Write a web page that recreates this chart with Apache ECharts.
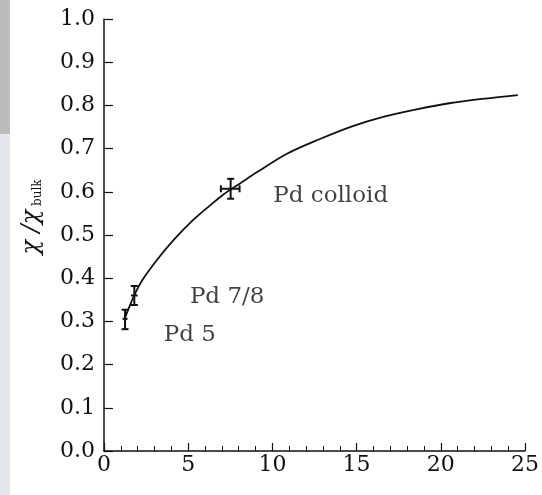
<!DOCTYPE html>
<html>
<head>
<meta charset="utf-8">
<script src="https://cdn.jsdelivr.net/npm/echarts@6/dist/echarts.min.js"></script>
<style>
  html, body { margin: 0; padding: 0; background: #fff; }
  #main { width: 542px; height: 495px; }
</style>
</head>
<body>
<div id="main"></div>
<script>
// fitted curve
var curveX = [1.22, 1.8, 2.28, 3.26, 4.22, 5.19, 6.16, 7.13, 8.1, 9.07, 10.81, 12.75, 14.69, 16.63, 18.56, 20.5, 22.44, 24.57];
var curveY = [0.306, 0.361, 0.396, 0.448, 0.492, 0.531, 0.564, 0.595, 0.620, 0.645, 0.687, 0.721, 0.751, 0.774, 0.791, 0.805, 0.815, 0.824];

// measured points: x, y, xlow, xhigh, ylow, yhigh
var sampleNames = ['Pd 5', 'Pd 7/8', 'Pd colloid'];
var sampleX = [1.25, 1.8, 7.52];
var sampleY = [0.306, 0.36, 0.607];
var sampleXErr = [[1.1, 1.4], [1.6, 2.0], [6.94, 8.05]];
var sampleYErr = [[0.282, 0.327], [0.338, 0.382], [0.584, 0.630]];

// where the sample names sit (left edge, middle)
var labelX = [3.55, 5.1, 10.05];
var labelY = [0.268, 0.357, 0.59];

var xTicks = [0, 5, 10, 15, 20, 25];
var yTicks = [0.0, 0.1, 0.2, 0.3, 0.4, 0.5, 0.6, 0.7, 0.8, 0.9, 1.0];

var ink = '#111';
var serif = 'DejaVu Serif';

var chart = echarts.init(document.getElementById('main'));

var curveData = curveX.map(function (x, i) { return [x, curveY[i]]; });
var errData = sampleX.map(function (x, i) {
    return [x, sampleY[i], sampleXErr[i][0], sampleXErr[i][1], sampleYErr[i][0], sampleYErr[i][1]];
});
var labelData = labelX.map(function (x, i) { return [x, labelY[i], sampleNames[i]]; });

function renderErr(params, api) {
    var c = api.coord([api.value(0), api.value(1)]);
    var xl = api.coord([api.value(2), api.value(1)]);
    var xh = api.coord([api.value(3), api.value(1)]);
    var yl = api.coord([api.value(0), api.value(4)]);
    var yh = api.coord([api.value(0), api.value(5)]);
    var cap = 3.5;
    var style = { stroke: ink, lineWidth: 2 };
    var segs = [
        [xl[0], c[1], xh[0], c[1]],
        [c[0], yl[1], c[0], yh[1]],
        [c[0] - cap, yl[1], c[0] + cap, yl[1]],
        [c[0] - cap, yh[1], c[0] + cap, yh[1]]
    ];
    if (api.value(3) - api.value(2) > 0.5) {
        segs.push([xl[0], c[1] - cap, xl[0], c[1] + cap]);
        segs.push([xh[0], c[1] - cap, xh[0], c[1] + cap]);
    }
    return {
        type: 'group',
        children: segs.map(function (s) {
            return { type: 'line', shape: { x1: s[0], y1: s[1], x2: s[2], y2: s[3] }, style: style };
        })
    };
}

var option = {
    backgroundColor: '#fff',
    animation: false,
    graphic: [
        { type: 'rect', shape: { x: 0, y: 0, width: 10, height: 134 }, style: { fill: '#bcbcbc' }, z: -1 },
        { type: 'rect', shape: { x: 0, y: 134, width: 10, height: 361 }, style: { fill: '#e3e8ea' }, z: -1 }
    ],
    grid: { left: 104, right: 8, top: 19, bottom: 44 },
    xAxis: {
        type: 'value',
        min: 0,
        max: 25,
        interval: 5,
        axisLine: { lineStyle: { color: ink, width: 1.5 } },
        axisTick: { inside: true, length: 8, lineStyle: { color: ink, width: 1.2 } },
        minorTick: { show: true, splitNumber: 5, length: 5, lineStyle: { color: ink, width: 1 } },
        splitLine: { show: false },
        axisLabel: {
            color: ink, fontFamily: serif, fontSize: 22, margin: 3,
            formatter: function (v) { return xTicks.indexOf(v) >= 0 ? String(v) : ''; }
        }
    },
    yAxis: {
        type: 'value',
        min: 0,
        max: 1,
        interval: 0.1,
        name: '{a|\u03c7 /\u03c7}{b| bulk}',
        nameLocation: 'middle',
        nameGap: 60,
        nameRotate: 90,
        nameTextStyle: {
            padding: [0, 0, 0, 36],
            rich: {
                a: { fontFamily: serif, fontSize: 24, fontStyle: 'italic', color: ink },
                b: { fontFamily: serif, fontSize: 12, color: ink, verticalAlign: 'bottom', padding: [8, 0, 0, 0] }
            }
        },
        axisLine: { lineStyle: { color: ink, width: 1.5 } },
        axisTick: { inside: true, length: 9, lineStyle: { color: ink, width: 1.2 } },
        splitLine: { show: false },
        axisLabel: {
            color: ink, fontFamily: serif, fontSize: 22, margin: 9,
            formatter: function (v) {
                var t = Math.round(v * 10) / 10;
                return yTicks.indexOf(t) >= 0 ? t.toFixed(1) : '';
            }
        }
    },
    series: [
        {
            type: 'line',
            data: curveData,
            smooth: 0.3,
            symbol: 'none',
            lineStyle: { color: ink, width: 1.8 }
        },
        {
            type: 'custom',
            renderItem: renderErr,
            data: errData,
            z: 3
        },
        {
            type: 'scatter',
            data: labelData,
            symbolSize: 0,
            label: {
                show: true,
                position: 'inside',
                align: 'left',
                verticalAlign: 'middle',
                formatter: function (p) { return p.value[2]; },
                fontFamily: serif,
                fontSize: 23,
                color: ink
            }
        }
    ]
};

chart.setOption(option);
</script>
</body>
</html>
